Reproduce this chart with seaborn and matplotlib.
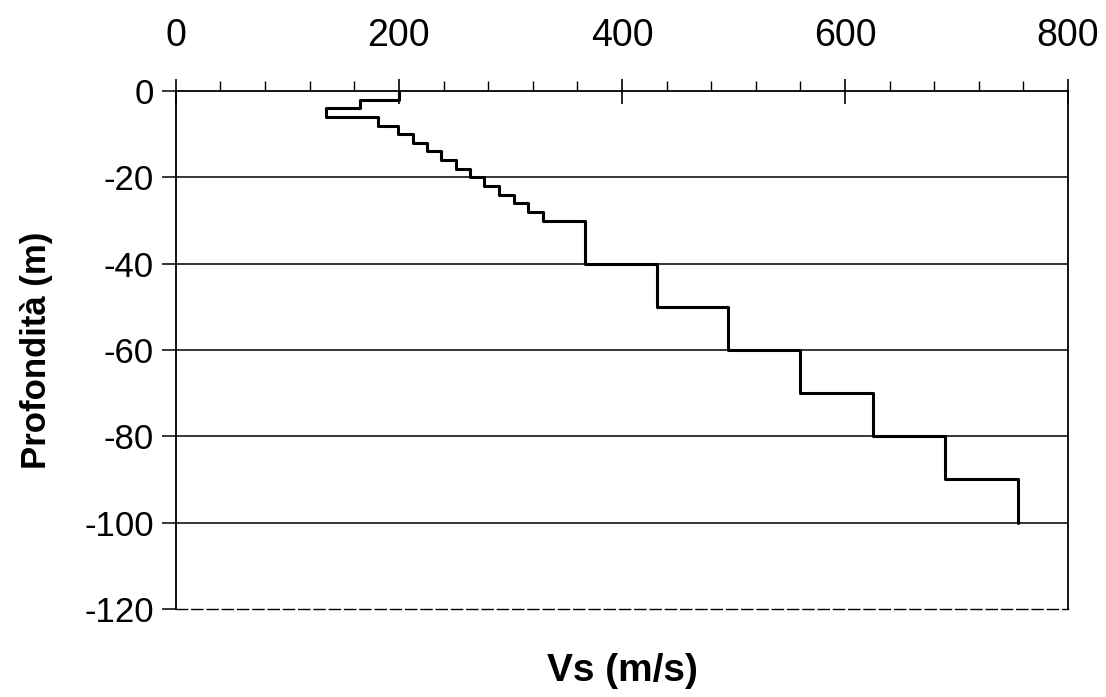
import numpy as np
import pandas as pd
import matplotlib
matplotlib.use("Agg")
import matplotlib.pyplot as plt
from matplotlib.ticker import MultipleLocator
import seaborn as sns

# Layer data: depth of top and bottom of each layer (m) and shear-wave velocity (m/s)
layer_top = [0, 2, 4, 6, 8, 10, 12, 14, 16, 18, 20, 22, 24, 26, 28, 30, 40, 50, 60, 70, 80, 90]
layer_bottom = [2, 4, 6, 8, 10, 12, 14, 16, 18, 20, 22, 24, 26, 28, 30, 40, 50, 60, 70, 80, 90, 100]
vs = [200, 165, 135, 181, 199, 213, 225, 238, 251, 264, 276, 290, 303, 316, 329,
      367, 431, 495, 560, 625, 690, 755]

x_ticks = [0, 200, 400, 600, 800]
y_ticks = [0, -20, -40, -60, -80, -100, -120]

# Step profile path built from layers
path_x = np.repeat(vs, 2)
path_y = -np.column_stack([layer_top, layer_bottom]).ravel()
df = pd.DataFrame({"Vs": path_x, "depth": path_y})

sns.set_style("white")
plt.rcParams['font.family'] = ['Liberation Sans', 'DejaVu Sans']
plt.rcParams.update({"text.color": "black", "axes.labelcolor": "black",
                     "xtick.color": "black", "ytick.color": "black"})

fig = plt.figure(figsize=(11.06, 6.97), dpi=100)
ax = fig.add_axes([0.159, 0.1263, 0.8067, 0.7431])

# gridlines
for yv in y_ticks[1:-1]:
    ax.axhline(yv, color="black", lw=1.1, zorder=1)

sns.lineplot(data=df, x="Vs", y="depth", sort=False, estimator=None,
             color="black", lw=2.2, ax=ax, zorder=3)

ax.set_xlim(0, 800)
ax.set_ylim(-120, 0)
ax.xaxis.tick_top()
ax.xaxis.set_label_position("bottom")
ax.set_xticks(x_ticks)
ax.xaxis.set_minor_locator(MultipleLocator(40))
ax.set_yticks(y_ticks)
ax.set_xticklabels([str(t) for t in x_ticks])
ax.set_yticklabels([str(t) for t in y_ticks])

ax.tick_params(axis="x", which="major", direction="inout", length=18, width=1.2,
               labelsize=27, pad=18, top=True, bottom=False, colors="black")
ax.tick_params(axis="x", which="minor", direction="out", length=7, width=1.0,
               top=True, bottom=False, colors="black")
ax.tick_params(axis="y", which="major", direction="out", length=10, width=1.1,
               labelsize=25, pad=6, left=True, colors="black")

for s in ["top", "left", "right", "bottom"]:
    ax.spines[s].set_color("black")
    ax.spines[s].set_linewidth(1.3)
ax.spines["bottom"].set_linestyle((0, (8, 3)))
ax.spines["bottom"].set_linewidth(1.0)

ax.set_xlabel("Vs (m/s)", fontsize=28, fontweight="bold", labelpad=32, color="black")
ax.set_ylabel("Profondità (m)", fontsize=25, fontweight="bold", labelpad=22, color="black")

fig.savefig("out.png", dpi=100, facecolor="white")
